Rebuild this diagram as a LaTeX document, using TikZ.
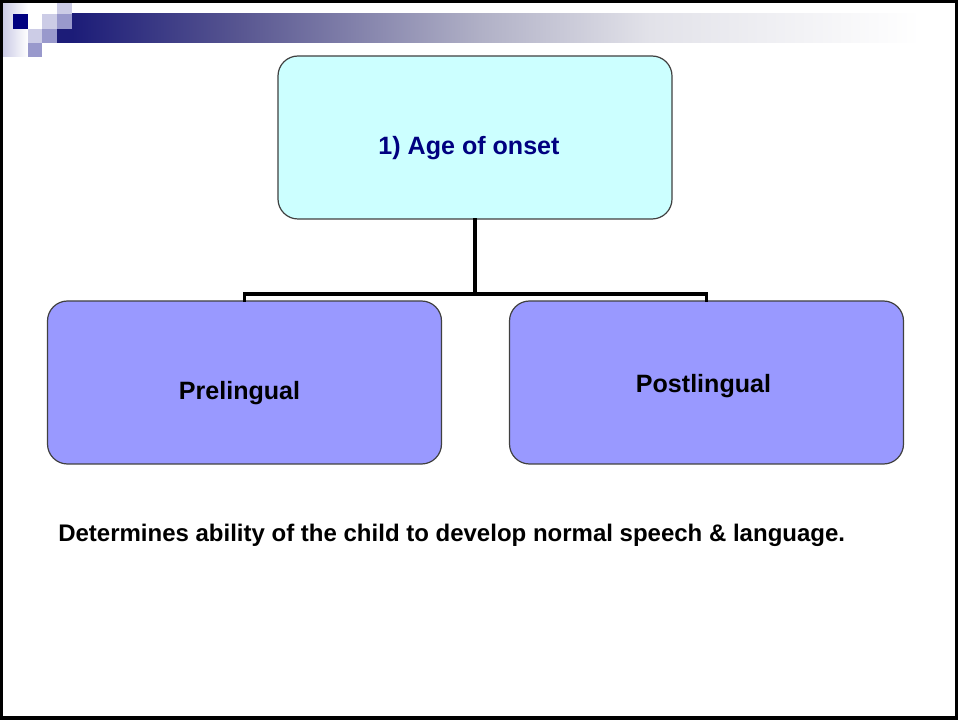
\documentclass[tikz,border=0pt]{standalone}
\usepackage{fontspec}
\setmainfont{Liberation Sans}
% place a label off its natural centre without changing its box
\newcommand{\offsetlabel}[3]{\raisebox{#2}[\height][\depth]{\kern#1\relax #3\kern-#1\relax}}
\begin{document}
\begin{tikzpicture}[x=0.75pt,y=-0.75pt,
  box/.style={draw=black!75, line width=0.9pt, rounded corners=15pt,
    minimum width=295.5pt, minimum height=122.25pt, inner sep=0pt,
    font=\fontsize{18.8pt}{21pt}\selectfont\bfseries},
  link/.style={line width=2.5pt, line cap=rect}]
\definecolor{navy}{RGB}{0,0,128}
\definecolor{cyanfill}{RGB}{204,255,255}
\definecolor{lilac}{RGB}{153,153,255}
\definecolor{sqlight}{RGB}{204,204,230}
\definecolor{sqmid}{RGB}{153,153,204}
\definecolor{barA}{RGB}{28,28,120}
\definecolor{barB}{RGB}{88,86,145}
\definecolor{barC}{RGB}{176,176,198}
\definecolor{barD}{RGB}{226,226,233}
\useasboundingbox (0,0) rectangle (958,720);
\fill[white] (0,0) rectangle (958,720);

% title bar ornament
\shade[left color=sqlight, right color=white] (3,3) rectangle (28,57);
\shade[left color=barA, right color=barB] (72,14) rectangle (240,43);
\shade[left color=barB, right color=barC] (239.5,14) rectangle (480,43);
\shade[left color=barC, right color=barD] (479.5,14) rectangle (650,43);
\shade[left color=barD, right color=white] (649.5,14) rectangle (920,43);
\fill[barA] (57,29) rectangle (72.5,43);
\fill[sqlight] (57,3) rectangle (72,14);
\fill[navy] (13,14) rectangle (28,29);
\fill[sqlight] (42,14) rectangle (57,29);
\fill[sqmid] (57,14) rectangle (72,29);
\fill[sqlight] (28,29) rectangle (42,43);
\fill[sqmid] (42,29) rectangle (57,43);
\fill[sqmid] (28,43) rectangle (42,57);

% chart
\node[box, fill=cyanfill, text=navy] (onset) at (475,137.5)
  {\offsetlabel{-4.5pt}{-7.75pt}{1) Age of onset}};
\node[box, fill=lilac] (pre) at (244.5,382.5)
  {\offsetlabel{-3.75pt}{-8pt}{Prelingual}};
\node[box, fill=lilac] (post) at (706.5,382.5)
  {\offsetlabel{-2.25pt}{-2.5pt}{Postlingual}};
\coordinate (fork) at (475,294);
\draw[link] (onset.south) -- (fork);
\draw[link] (pre.north) -- (pre.north |- fork) -- (post.north |- fork) -- (post.north);

\node[anchor=west, inner sep=0pt, font=\fontsize{18pt}{21pt}\selectfont\bfseries] (note) at (58,535)
  {Determines ability of the child to develop normal speech \& language.};

% slide frame
\draw[line width=2.2pt] (1.5,1.5) rectangle (956.5,717);
\draw[line width=2.5pt] (0,718.5) -- (958,718.5);
\end{tikzpicture}
\end{document}
